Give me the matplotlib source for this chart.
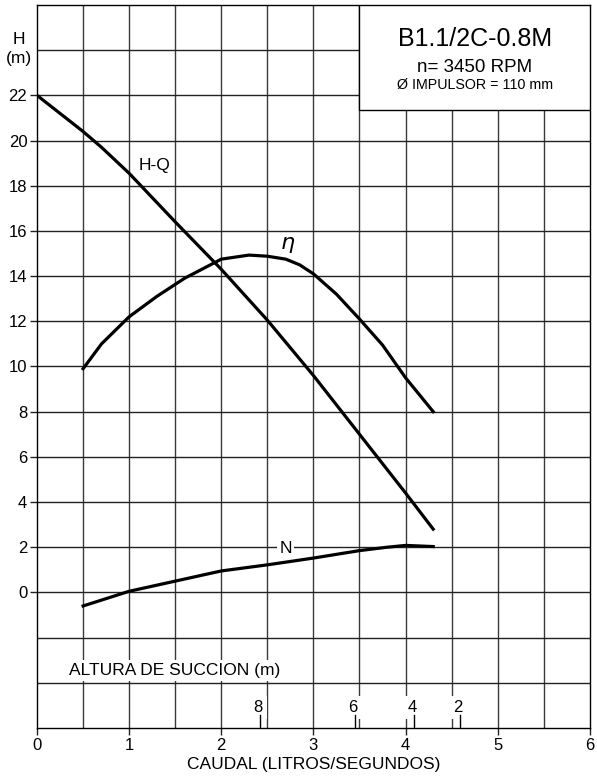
import matplotlib.pyplot as plt
import numpy as np

plt.rcParams['font.family'] = ['Liberation Sans', 'DejaVu Sans']

# curves
q_hq = [0.0, 0.5, 0.7, 1.0, 1.5, 2.0, 2.5, 3.0, 3.5, 4.0, 4.3]
h_hq = [22.0, 20.4, 19.7, 18.55, 16.4, 14.3, 12.05, 9.6, 7.0, 4.4, 2.8]

q_eta = [0.5, 0.7, 1.0, 1.3, 1.6, 2.0, 2.3, 2.5, 2.7, 2.85, 3.0, 3.25, 3.5, 3.75, 4.0, 4.3]
h_eta = [9.9, 11.0, 12.2, 13.1, 13.9, 14.75, 14.93, 14.88, 14.75, 14.5, 14.1, 13.2, 12.1, 10.95, 9.5, 8.0]

q_n = [0.5, 1.0, 1.5, 2.0, 2.5, 3.0, 3.5, 3.8, 4.0, 4.3]
h_n = [-0.6, 0.05, 0.5, 0.95, 1.22, 1.52, 1.85, 2.0, 2.08, 2.03]

# suction height scale (m) along the flow axis
succ_labels = ['8', '6', '4', '2']
succ_q = [2.42, 3.45, 4.09, 4.59]

xticks = [0, 1, 2, 3, 4, 5, 6]
yticks = list(range(0, 23, 2))

fig = plt.figure(figsize=(5.97, 7.78), dpi=100)
ax = fig.add_axes([0.062, 0.0643, 0.926, 0.9293])
ax.set_xlim(0, 6)
ax.set_ylim(-6, 26)

# grid
for xv in np.arange(0.5, 6, 0.5):
    ax.axvline(xv, color='#3a3a3a', lw=1.0, zorder=1)
for yv in range(-4, 26, 2):
    ax.axhline(yv, color='#222222', lw=1.0, zorder=1)

# curves
ax.plot(q_hq, h_hq, color='black', lw=2.3, zorder=4)
ax.plot(q_eta, h_eta, color='black', lw=2.3, zorder=4)
ax.plot(q_n, h_n, color='black', lw=2.3, zorder=4)

ax.text(1.27, 18.9, 'H-Q', fontsize=12.5, ha='center', va='center', zorder=5)
ax.text(2.72, 15.4, r'$\eta$', fontsize=16, ha='center', va='center', zorder=5)
ax.text(2.7, 1.95, 'N', fontsize=12.5, ha='center', va='center', zorder=5,
        bbox=dict(facecolor='white', edgecolor='none', pad=1.5))

# info box
ax.add_patch(plt.Rectangle((3.5, 21.35), 2.5, 4.65, facecolor='white',
                           edgecolor='black', lw=1.0, zorder=3))
ax.text(4.75, 24.5, 'B1.1/2C-0.8M', fontsize=18, ha='center', va='center', zorder=5)
ax.text(4.75, 23.25, 'n= 3450 RPM', fontsize=13.5, ha='center', va='center', zorder=5)
ax.text(4.75, 22.44, 'Ø IMPULSOR = 110 mm', fontsize=10.3, ha='center', va='center', zorder=5)

# suction section
ax.text(0.35, -3.45, 'ALTURA DE SUCCION (m)', fontsize=12.5, ha='left', va='center',
        zorder=3, bbox=dict(facecolor='white', edgecolor='none', pad=2))
for lab, qv in zip(succ_labels, succ_q):
    ax.text(qv - 0.02, -5.08, lab, fontsize=12, ha='center', va='center', zorder=3,
            bbox=dict(facecolor='white', edgecolor='none', pad=3))
    ax.plot([qv, qv], [-6, -5.44], color='black', lw=1.0, zorder=4)

# axes labels
ax.text(-0.2, 24.45, 'H', fontsize=12.5, ha='center', va='center', clip_on=False)
ax.text(-0.2, 23.65, '(m)', fontsize=12.5, ha='center', va='center', clip_on=False)

ax.set_xticks(xticks)
ax.set_xticklabels([str(v) for v in xticks], fontsize=12)
ax.set_yticks(yticks)
ax.set_yticklabels([str(v) for v in yticks], fontsize=12)
ax.tick_params(axis='x', length=5, width=1.0, color='#222222', pad=2)
ax.tick_params(axis='y', length=5, width=1.0, color='#222222', pad=2)
ax.set_xlabel('CAUDAL (LITROS/SEGUNDOS)', fontsize=12.5, labelpad=3)

for s in ax.spines.values():
    s.set_color('black')
    s.set_linewidth(1.0)

fig.savefig('out.png', dpi=100)
